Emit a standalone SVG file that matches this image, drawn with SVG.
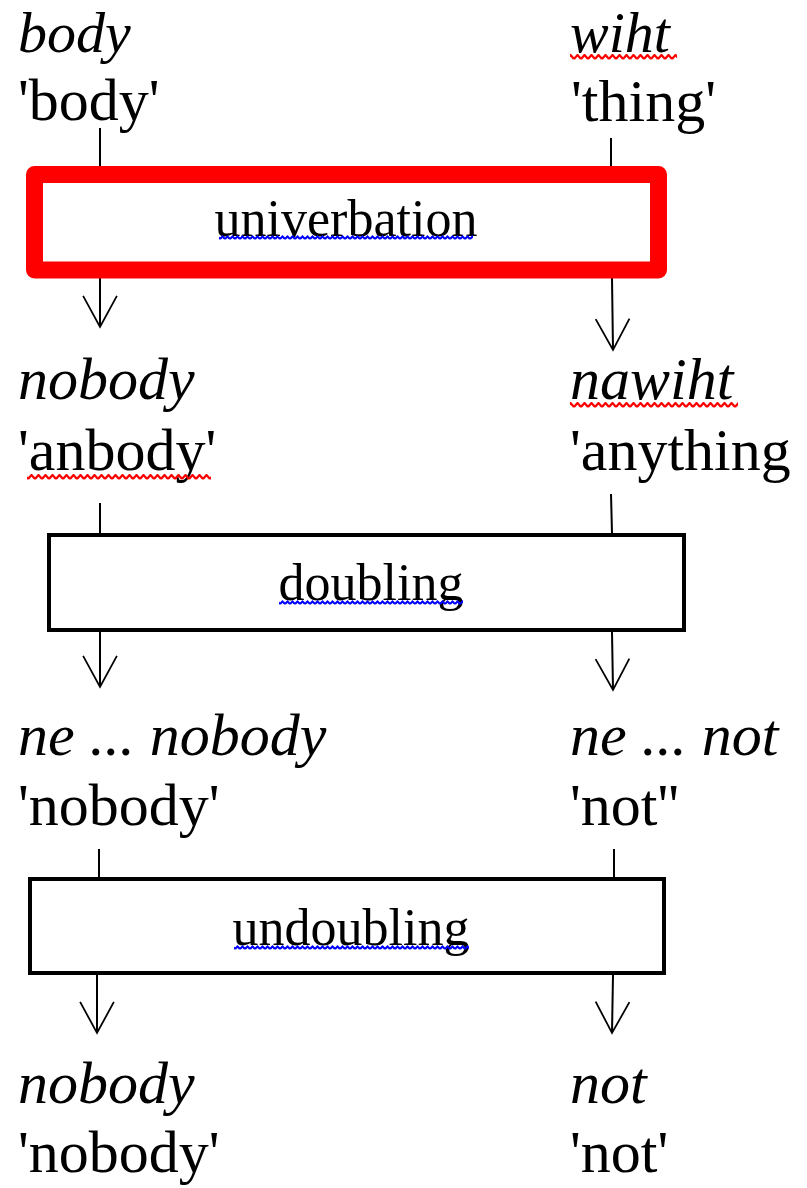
<svg xmlns="http://www.w3.org/2000/svg" width="807" height="1188" viewBox="0 0 807 1188">
<style>
.t{font-family:"Liberation Serif","Times New Roman",serif;font-size:60px;fill:#000}
.i{font-style:italic}
.top{font-size:58px}
.lb{font-family:"Liberation Serif","Times New Roman",serif;font-size:52px;fill:#000;text-anchor:middle}
.c{stroke:#000;stroke-width:2;fill:none}
.a{marker-end:url(#v)}
.box{fill:#fff;stroke:#000;stroke-width:4}
</style>
<defs>
<marker id="v" markerUnits="userSpaceOnUse" orient="auto" refX="0" refY="0" markerWidth="40" markerHeight="50" viewBox="-40 -25 45 50" overflow="visible">
<path d="M-35,-19 L0,0 L-35,19" fill="none" stroke="#000" stroke-width="2"/>
</marker>
<pattern id="wr" patternUnits="userSpaceOnUse" width="7" height="6">
<path d="M0,5 L3.5,1 L7,5" fill="none" stroke="#f00" stroke-width="2.2"/>
</pattern>
<pattern id="wb" patternUnits="userSpaceOnUse" width="5" height="5">
<path d="M0,4 L2.5,1.5 L5,4" fill="none" stroke="#00f" stroke-width="2"/>
</pattern>
</defs>
<rect width="807" height="1188" fill="#fff"/>

<g id="connectors">
<line class="c" x1="100" y1="128" x2="100" y2="166"/>
<line class="c" x1="611" y1="138" x2="611" y2="166"/>
<line class="c a" x1="100" y1="278" x2="100" y2="327"/>
<line class="c a" x1="612" y1="278" x2="613" y2="350"/>
<line class="c" x1="100" y1="503" x2="100" y2="533"/>
<line class="c" x1="611" y1="494" x2="612" y2="533"/>
<line class="c a" x1="100" y1="632" x2="100" y2="687"/>
<line class="c a" x1="612" y1="632" x2="613" y2="690"/>
<line class="c" x1="99" y1="849" x2="99" y2="877"/>
<line class="c" x1="614" y1="849" x2="614" y2="877"/>
<line class="c a" x1="97" y1="975" x2="97" y2="1033"/>
<line class="c a" x1="613" y1="975" x2="612" y2="1033"/>
</g>

<g id="node-body">
<text class="t i top" x="18" y="52">body</text>
<text class="t" x="18" y="120">'body'</text>
</g>
<g id="node-wiht">
<text class="t i top" x="570" y="52">wiht</text>
<rect x="570" y="54" width="107" height="6" fill="url(#wr)"/>
<text class="t" x="571" y="121">'thing'</text>
</g>

<g id="node-univerbation">
<rect x="34.5" y="174.5" width="624" height="95.5" fill="#fff" stroke="#f00" stroke-width="17" stroke-linejoin="round"/>
<text class="lb" x="346" y="236">univerbation</text>
<rect x="219" y="235" width="254" height="5" fill="url(#wb)"/>
</g>

<g id="node-nobody1">
<text class="t i" x="18" y="399">nobody</text>
<text class="t" x="18" y="470">'anbody'</text>
<rect x="27" y="474" width="184" height="6" fill="url(#wr)"/>
</g>
<g id="node-nawiht">
<text class="t i" x="570" y="399">nawiht</text>
<rect x="570" y="402" width="168" height="6" fill="url(#wr)"/>
<text class="t" x="570" y="470">'anything</text>
</g>

<g id="node-doubling">
<rect class="box" x="49" y="535" width="635" height="95"/>
<text class="lb" x="371" y="600">doubling</text>
<rect x="279" y="600" width="184" height="5" fill="url(#wb)"/>
</g>

<g id="node-ne-nobody">
<text class="t i" x="18" y="755">ne ... nobody</text>
<text class="t" x="18" y="825">'nobody'</text>
</g>
<g id="node-ne-not">
<text class="t i" x="570" y="755">ne ... not</text>
<text class="t" x="570" y="825">'not''</text>
</g>

<g id="node-undoubling">
<rect class="box" x="30" y="879" width="634" height="94"/>
<text class="lb" x="351" y="945">undoubling</text>
<rect x="234" y="945" width="235" height="5" fill="url(#wb)"/>
</g>

<g id="node-nobody2">
<text class="t i" x="18" y="1103">nobody</text>
<text class="t" x="18" y="1172">'nobody'</text>
</g>
<g id="node-not">
<text class="t i" x="570" y="1103">not</text>
<text class="t" x="570" y="1172">'not'</text>
</g>
</svg>
